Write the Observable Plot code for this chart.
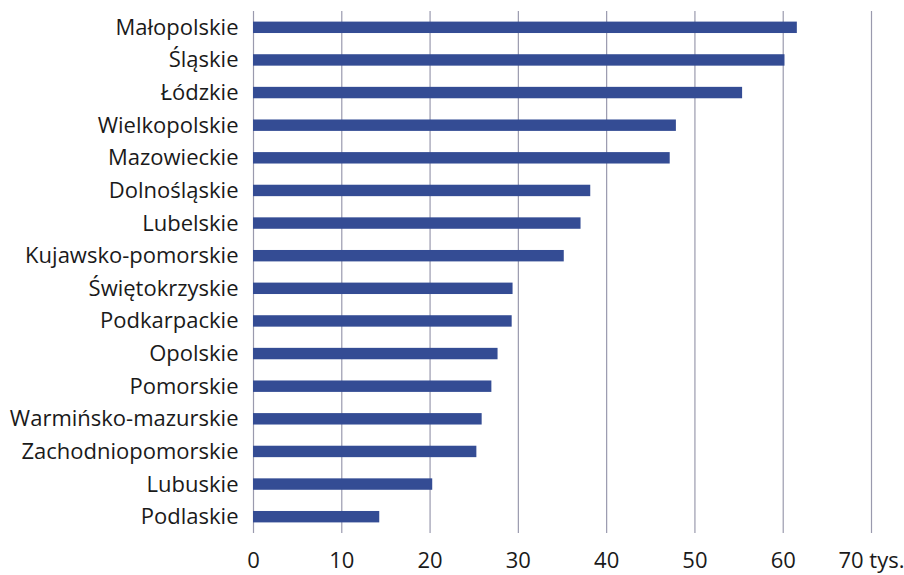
<!DOCTYPE html>
<html>
<head>
<meta charset="utf-8">
<script src="https://cdn.jsdelivr.net/npm/d3@7"></script>
<script src="https://cdn.jsdelivr.net/npm/@observablehq/plot@0.6"></script>
<style>
  html, body { margin: 0; padding: 0; background: #fff; }
</style>
</head>
<body>
<div id="chart"></div>
<script>
const regions = [
  "Małopolskie", "Śląskie", "Łódzkie", "Wielkopolskie", "Mazowieckie",
  "Dolnośląskie", "Lubelskie", "Kujawsko-pomorskie", "Świętokrzyskie",
  "Podkarpackie", "Opolskie", "Pomorskie", "Warmińsko-mazurskie",
  "Zachodniopomorskie", "Lubuskie", "Podlaskie"
];
const values = [61.6, 60.2, 55.4, 47.9, 47.2, 38.2, 37.1, 35.2, 29.4, 29.3, 27.7, 27.0, 25.9, 25.3, 20.3, 14.3];
const xTicks = [0, 10, 20, 30, 40, 50, 60, 70];
const xTickLabels = ["0", "10", "20", "30", "40", "50", "60", "70 tys."];

const data = regions.map((r, i) => ({region: r, value: values[i]}));

const chart = Plot.plot({
  width: 904,
  height: 575,
  marginLeft: 253,
  marginRight: 33,
  marginTop: 11,
  marginBottom: 42,
  style: {fontFamily: "'Open Sans', sans-serif", fontSize: "22px", color: "#1a1a1a", background: "#fff"},
  x: {
    domain: [0, 70],
    ticks: xTicks,
    tickFormat: d => xTickLabels[xTicks.indexOf(d)],
    tickSize: 0,
    tickPadding: 19,
    label: null
  },
  y: {
    domain: regions,
    padding: 0,
    round: false,
    tickSize: 0,
    tickPadding: 15,
    label: null
  },
  marks: [
    Plot.ruleX(xTicks, {stroke: "#9a9aae", strokeWidth: 1.2}),
    Plot.barX(data, {x: "value", y: "region", fill: "#344c94", insetTop: 10.6, insetBottom: 10.6})
  ]
});
document.getElementById("chart").appendChild(chart);
</script>
</body>
</html>
